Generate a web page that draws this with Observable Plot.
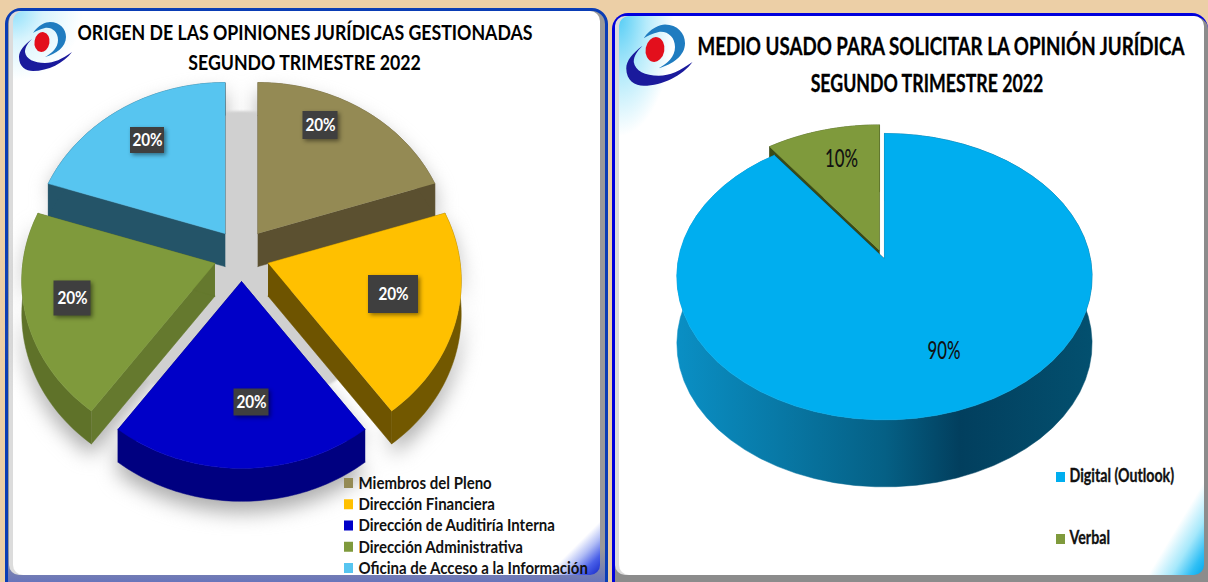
<!DOCTYPE html>
<html><head><meta charset="utf-8">
<script src="https://cdn.jsdelivr.net/npm/d3@7"></script>
<script src="https://cdn.jsdelivr.net/npm/@observablehq/plot@0.6"></script>
<style>
html,body{margin:0;padding:0;width:1208px;height:582px;overflow:hidden;background:#eccfa6;}
.panel{position:absolute;box-sizing:border-box;border-style:solid;border-radius:16px;}
.inner{position:absolute;border-radius:10px;background-color:#fff;background-repeat:no-repeat;box-shadow:-4px 0 0 #dcdcdc;}
#pL{left:5px;top:8px;width:603px;height:590px;border-width:3px;border-color:#0a3db5;
 background:linear-gradient(to bottom,#9a9a9a 0,#9a9a9a 92%,#5566c8 100%);}
#iL{left:5px;top:0;width:587px;height:564px;
 background-image:radial-gradient(circle at 0 0,#8fe0fb 0,#d8f4fd 30px,rgba(255,255,255,0) 70px),
 linear-gradient(315deg,#1428c8 0,#4a60e8 14px,#b0bcf5 26px,rgba(255,255,255,0) 38px);}
#pR{left:612px;top:13px;width:596px;height:585px;border-width:3px 0 0 3px;border-color:#0000dd;background:#8c8c8c;}
#iR{left:4px;top:0;width:585px;height:559px;
 background-image:radial-gradient(ellipse 55px 120px at 0 0,#55cdf5 0,#b5ebfb 50%,rgba(255,255,255,0) 100%),
 linear-gradient(301deg,#00a8ee 0,#30bff5 12px,#a5e8fb 28px,rgba(255,255,255,0) 48px);}
.logo{position:absolute;}
#chart{position:absolute;left:0;top:0;}
#chart svg{background:transparent!important;display:block;}
</style></head><body>
<div class="panel" id="pL"><div class="inner" id="iL"></div></div>
<div class="panel" id="pR"><div class="inner" id="iR"></div></div>
<svg width="0" height="0" style="position:absolute"><defs>
<linearGradient id="sideGrad" gradientUnits="userSpaceOnUse" x1="677" y1="0" x2="1092" y2="0">
<stop offset="0" stop-color="#0a8fc4"/><stop offset="0.25" stop-color="#0878a5"/><stop offset="0.5" stop-color="#056085"/><stop offset="0.68" stop-color="#023f5e"/><stop offset="1" stop-color="#03506f"/>
</linearGradient>
<g id="lg">
<path d="M15 12C20 4 28 1 32 1C42 1 48 8 48 16C48 26 38 33 27 36C34 32 40 27 40 19C40 11 34 6 27 7C22 8 18 10 15 12Z" fill="#1f7cc0"/>
<path d="M14 18C6 24 1 30 1 36C1 46 8 50 15 50C30 50 46 42 54 31C44 38 36 42 27 42C16 42 8 38 7 31C7 26 10 22 14 18Z" fill="#1a1a9c"/>
<ellipse cx="24" cy="21" rx="7.5" ry="10" transform="rotate(10 24 21)" fill="#e30f1c"/>
</g></defs></svg>
<svg class="logo" style="left:18px;top:21px" width="56" height="54" viewBox="0 0 56 54"><use href="#lg"/></svg>
<svg class="logo" style="left:625px;top:23px" width="70" height="68" viewBox="0 0 56 54"><use href="#lg"/></svg>
<div id="chart"></div>
<script>
// ---- data
const originCategories = ["Miembros del Pleno","Dirección Financiera","Dirección de Auditiría Interna","Dirección Administrativa","Oficina de Acceso a la Información"];
const originValues = [20,20,20,20,20];
const originColors = ["#948a54","#ffc000","#0000c8","#7f9a3c","#57c5f0"];
const originCutColors = ["#5b5030","#6e5400","#000080","#65792e","#245468"];
const originArcColors = ["#5b5030","#725800","#000080","#5f7229","#245468"];
const mediumCategories = ["Digital (Outlook)","Verbal"];
const mediumValues = [90,10];
const mediumColors = ["#00aeef","#7f9a3c"];
const mediumCutColors = ["#00405e","#3a4a16"];
const mediumArcColors = ["url(#sideGrad)","#3a4a16"];
const titleOrigin = ["ORIGEN DE LAS OPINIONES JURÍDICAS GESTIONADAS","SEGUNDO TRIMESTRE 2022"];
const titleMedium = ["MEDIO USADO PARA SOLICITAR LA OPINIÓN JURÍDICA","SEGUNDO TRIMESTRE 2022"];

// ---- layout
const pieL = {cx:241,cy:254.5,rx:192,ry:167,p:0.106,ex:28,ey:26.5,depth:33,order:[0,4,1,3,2]};
const pieR = {cx:881.5,cy:254,rx:206,ry:141,p:0.125,ex:8,ey:4.5,depth:67,order:[1,0]};
const labelBoxes = [[320,125,35,28],[393,294,50,38],[251,402,35,27],[72,298,37,35],[147,140,34,26]];

function project(pie,ax,ay,t,d=0){
  const f=1/(1+pie.p*Math.cos(t));
  return [ax+pie.rx*Math.sin(t)*f, ay-pie.ry*Math.cos(t)*f+d];
}
function arcPts(pie,ax,ay,a,b,d=0,n=64){
  return d3.range(n+1).map(i=>project(pie,ax,ay,a+(b-a)*i/n,d));
}
const polys=[], shadow=[];
let gid=0;
function addPoly(list,pts,color){const z=gid++; pts.forEach(p=>list.push({x:p[0],y:p[1],z,c:color}));}

function buildPie(pie,values,tops,cuts,arcs,list){
  const arcsData=d3.pie().sort(null).value(d=>d)(values);
  for(const i of pie.order){
    const s=arcsData[i],a=s.startAngle,b=s.endAngle,mid=(a+b)/2;
    const ax=pie.cx+pie.ex*Math.sin(mid), ay=pie.cy-pie.ey*Math.cos(mid);
    const d=pie.depth;
    const apex=[ax,ay],apexD=[ax,ay+d];
    if(list) addPoly(list,[apex,...arcPts(pie,ax,ay,a,b),...arcPts(pie,ax,ay,b,a,d),apexD],"#000");
    for(const t of [a,b]){
      addPoly(polys,[apex,project(pie,ax,ay,t),project(pie,ax,ay,t,d),apexD],cuts[i]);
    }
    addPoly(polys,[...arcPts(pie,ax,ay,a,b),...arcPts(pie,ax,ay,b,a,d)],arcs[i]);
    addPoly(polys,[apex,...arcPts(pie,ax,ay,a,b)],tops[i]);
  }
}
const floor=[];
addPoly(floor,arcPts({...pieL,rx:165,ry:148,p:0.02},pieL.cx,pieL.cy+1,0,2*Math.PI,0,96),"#cfcfcf");
buildPie(pieL,originValues,originColors,originCutColors,originArcColors,shadow);
buildPie(pieR,mediumValues,mediumColors,mediumCutColors,mediumArcColors,null);

const legendL=originCategories.map((name,i)=>({name,color:originColors[i],row:i}));
const legendR=mediumCategories.map((name,i)=>({name,color:mediumColors[i],row:i}));
const labelsL=originValues.map((v,i)=>({text:v+"%",x:labelBoxes[i][0],y:labelBoxes[i][1],w:labelBoxes[i][2],h:labelBoxes[i][3]}));
const labelsR=[{text:mediumValues[0]+"%",x:943.5,y:351},{text:mediumValues[1]+"%",x:841,y:159}];
const font="Lato";

const chart=Plot.plot({
  width:1208,height:582,margin:0,
  x:{domain:[0,1208],range:[0,1208],axis:null},
  y:{domain:[0,582],range:[0,582],axis:null},
  color:{type:"identity"},
  marks:[
    Plot.line(shadow,{x:"x",y:d=>d.y+11,z:"z",fill:"#ababab",stroke:"none",imageFilter:"blur(10px)"}),
    Plot.line(floor,{x:"x",y:"y",z:"z",fill:"#d0d0d0",stroke:"none",imageFilter:"blur(1px)"}),
    Plot.line(polys,{x:"x",y:"y",z:"z",fill:"c",stroke:"c",strokeWidth:0.5}),
    // value labels
    Plot.rect(labelsL,{x1:d=>d.x-d.w/2,x2:d=>d.x+d.w/2,y1:d=>d.y-d.h/2,y2:d=>d.y+d.h/2,fill:"#3f3f3f",imageFilter:"drop-shadow(2px 2px 2px rgba(0,0,0,.45))"}),
    Plot.text(labelsL,{x:"x",y:"y",text:"text",fill:"#fff",fontFamily:font,fontWeight:700,fontSize:17,className:"sq-90"}),
    Plot.text(labelsR,{x:"x",y:"y",text:"text",fill:"#111",fontFamily:font,fontWeight:500,fontSize:24,className:"sq-70"}),
    // titles
    Plot.text(titleOrigin,{x:[304.5,304],y:[33,63],text:d=>d,fill:"#000",fontFamily:font,fontWeight:700,fontSize:20,className:"sq-887"}),
    Plot.text(titleMedium.slice(0,1),{x:940.5,y:46,text:d=>d,fill:"#000",stroke:"#000",strokeWidth:0.3,fontFamily:font,fontWeight:700,fontSize:25,className:"sq-75"}),
    Plot.text(titleMedium.slice(1),{x:926.5,y:83,text:d=>d,fill:"#000",stroke:"#000",strokeWidth:0.3,fontFamily:font,fontWeight:700,fontSize:25,className:"sq-71"}),
    // legends
    Plot.rect(legendL,{x1:344,x2:353,y1:d=>478+d.row*21.25,y2:d=>488+d.row*21.25,fill:"color"}),
    Plot.text(legendL,{x:358,y:d=>483+d.row*21.25,text:"name",textAnchor:"start",fill:"#111",fontFamily:font,fontWeight:700,fontSize:16.5,className:"sq-91"}),
    Plot.rect(legendR,{x1:1056,x2:1065,y1:d=>472+d.row*62,y2:d=>482+d.row*62,fill:"color"}),
    Plot.text(legendR,{x:1069,y:d=>476+d.row*62,text:"name",textAnchor:"start",fill:"#111",stroke:"#111",strokeWidth:0.3,fontFamily:font,fontWeight:700,fontSize:18,className:"sq-79"})
  ]
});
document.getElementById("chart").append(chart);
// condensed lettering: the reference face is narrower than the installed fonts
for(const [cls,sx] of [["sq-90",.9],["sq-70",.7],["sq-887",.887],["sq-75",.75],["sq-71",.71],["sq-91",.91],["sq-79",.79]]){
  chart.querySelectorAll("."+cls+" text, text."+cls).forEach(t=>{
    t.setAttribute("transform",(t.getAttribute("transform")||"")+` scale(${sx},1)`);
  });
}
</script>
</body></html>
